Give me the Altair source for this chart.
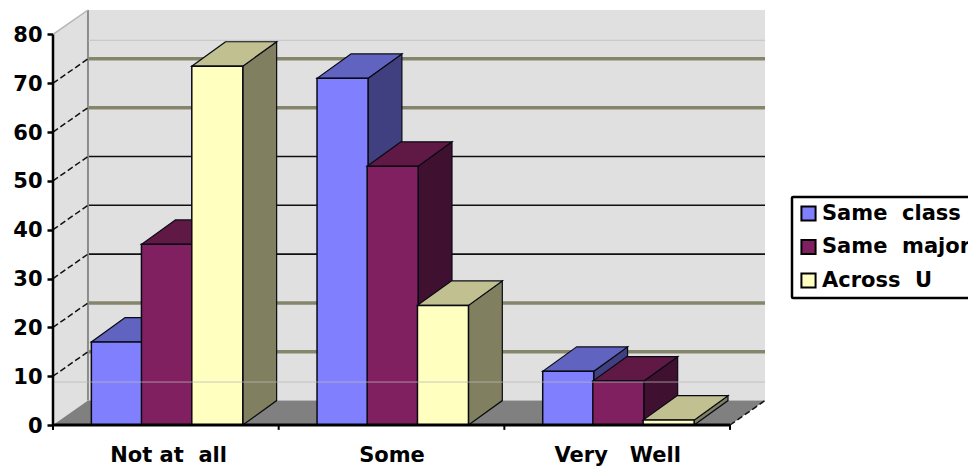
import altair as alt
import pandas as pd

# Survey responses, one value per answer group
categories = ["Not at\u00a0\u00a0all", "Some", "Very\u00a0\u00a0\u00a0Well"]
series = ["Same\u00a0\u00a0class", "Same\u00a0\u00a0major", "Across\u00a0\u00a0U"]
same_class = [17, 71, 11]
same_major = [37, 53, 9]
across_u = [73.5, 24.5, 1]
y_ticks = [0, 10, 20, 30, 40, 50, 60, 70, 80]

front_colors = ["#8080FF", "#802060", "#FFFFC0"]
top_colors = ["#6064C0", "#601845", "#C0C090"]
side_colors = ["#404080", "#401030", "#808060"]

# Pseudo-3D box geometry, in axis units
DEPTH_X = 0.155
DEPTH_Y = 5
BAR_DEPTH_X = 0.15
BAR_OFFSETS = [0.17, 0.392, 0.615]
BAR_WIDTH = 0.226
X_MAX = 3 + DEPTH_X
Y_MAX = 85
FONT = "DejaVu Sans"
INK = "#0a0a14"

x_scale = alt.Scale(domain=[0, X_MAX], nice=False, zero=False)
y_scale = alt.Scale(domain=[0, Y_MAX], nice=False, zero=False)

# Both axes are shared by every layer, so each layer carries the same definition
x_axis = alt.Axis(
    values=[0.51, 1.5, 2.5],
    labelExpr="datum.value < 1 ? '%s' : datum.value < 2 ? '%s' : '%s'" % tuple(categories),
    tickSize=0, domain=False, grid=False, labelFont=FONT, labelFontSize=21, labelFontWeight="bold",
    labelColor="black", labelPadding=19, labelAngle=0, title=None,
)
y_axis = alt.Axis(
    values=y_ticks, domain=False, grid=False, tickSize=6, tickWidth=2.5, tickColor="black",
    labelFont=FONT, labelFontSize=21, labelFontWeight="bold", labelColor="black", labelPadding=5,
    labelOffset=1, title=None,
)


def X(field, **kw):
    return alt.X(field, type="quantitative", scale=x_scale, axis=x_axis, **kw)


def Y(field, **kw):
    return alt.Y(field, type="quantitative", scale=y_scale, axis=y_axis, **kw)


# Walls and floor
back_wall = alt.Chart(pd.DataFrame([{"a": DEPTH_X, "b": X_MAX, "c": DEPTH_Y, "d": Y_MAX}])).mark_rect(
    color="#E0E0E0"
).encode(x=X("a"), x2="b:Q", y=Y("c"), y2="d:Q")

left_wall = alt.Chart(pd.DataFrame({
    "x": [0, DEPTH_X], "lo": [0, DEPTH_Y], "hi": [80, 80 + DEPTH_Y],
})).mark_area(color="#E0E0E0").encode(x=X("x"), y=Y("lo", stack=None), y2="hi:Q")

floor = alt.Chart(pd.DataFrame({
    "y": [0, DEPTH_Y], "l": [0, DEPTH_X], "r": [3, X_MAX],
})).mark_area(color="#808080", orient="horizontal").encode(y=Y("y"), x=X("l", stack=None), x2="r:Q")

# Back-wall gridlines: some levels print as heavy olive bands, others as thin black lines
heavy_levels = [10, 20, 60, 70]
thin_levels = [30, 40, 50]
heavy = alt.Chart(pd.DataFrame({"k": [k + DEPTH_Y for k in heavy_levels], "l": DEPTH_X, "r": X_MAX})).mark_rule(
    color="#85856C", strokeWidth=3.5
).encode(y=Y("k"), x=X("l"), x2="r:Q")
thin = alt.Chart(pd.DataFrame({"k": [k + DEPTH_Y for k in thin_levels], "l": DEPTH_X, "r": X_MAX})).mark_rule(
    color="#101010", strokeWidth=1.6
).encode(y=Y("k"), x=X("l"), x2="r:Q")
wall_edge = alt.Chart(pd.DataFrame({"x": [DEPTH_X], "lo": [DEPTH_Y], "hi": [Y_MAX]})).mark_rule(
    color="#8C8C8C", strokeWidth=2
).encode(x=X("x"), y=Y("lo"), y2="hi:Q")

# Dashed diagonals on the side wall, plus the floor's far right edge
diag_rows = []
for k in y_ticks[1:-1]:
    diag_rows += [{"k": k, "x": 0, "y": k}, {"k": k, "x": DEPTH_X, "y": k + DEPTH_Y}]
diag_rows += [{"k": -1, "x": 3, "y": 0}, {"k": -1, "x": X_MAX, "y": DEPTH_Y}]
diagonals = alt.Chart(pd.DataFrame(diag_rows)).mark_line(
    color="#101010", strokeWidth=1.5, strokeDash=[6, 3]
).encode(x=X("x"), y=Y("y"), detail="k:N")
top_diag = alt.Chart(pd.DataFrame({"x": [0, DEPTH_X], "y": [80, 80 + DEPTH_Y]})).mark_line(
    color="#B4B4B4", strokeWidth=1.5
).encode(x=X("x"), y=Y("y"))

# One set of side, top and front faces per series, painted left to right
bars = []
color_scale = alt.Scale(domain=series, range=front_colors)
legend = alt.Legend(
    orient="none", legendX=739, legendY=187, title=None, strokeColor="black", fillColor="white",
    padding=6, symbolType="square", symbolSize=200, symbolStrokeColor="black", symbolStrokeWidth=2,
    labelFont=FONT, labelFontSize=21, labelFontWeight="bold", labelColor="black", labelOffset=3,
    rowPadding=10.5, labelLimit=300,
)
for s, (name, values) in enumerate(zip(series, [same_class, same_major, across_u])):
    side_rows, top_rows, front_rows = [], [], []
    for c, v in enumerate(values):
        x0 = c + BAR_OFFSETS[s]
        x1 = x0 + BAR_WIDTH
        side_rows += [{"c": c, "x": x1, "lo": 0, "hi": v},
                      {"c": c, "x": x1 + BAR_DEPTH_X, "lo": DEPTH_Y, "hi": v + DEPTH_Y}]
        top_rows += [{"c": c, "y": v, "l": x0, "r": x1},
                     {"c": c, "y": v + DEPTH_Y, "l": x0 + BAR_DEPTH_X, "r": x1 + BAR_DEPTH_X}]
        front_rows.append({"series": name, "x0": x0, "x1": x1, "base": 0, "v": v})
    bars.append(alt.Chart(pd.DataFrame(side_rows)).mark_area(
        color=side_colors[s], stroke=INK, strokeWidth=1.2
    ).encode(x=X("x"), y=Y("lo", stack=None), y2="hi:Q", detail="c:N"))
    bars.append(alt.Chart(pd.DataFrame(top_rows)).mark_area(
        color=top_colors[s], stroke=INK, strokeWidth=1.2, orient="horizontal"
    ).encode(y=Y("y"), x=X("l", stack=None), x2="r:Q", detail="c:N"))
    bars.append(alt.Chart(pd.DataFrame(front_rows)).mark_rect(stroke=INK, strokeWidth=1.5).encode(
        x=X("x0"), x2="x1:Q", y=Y("base"), y2="v:Q",
        color=alt.Color("series:N", scale=color_scale, legend=legend),
    ))

# Faint horizontal scan lines that run across the whole plot
faint = alt.Chart(pd.DataFrame({"k": [8.8, 78.8], "l": [0, DEPTH_X], "r": [X_MAX, X_MAX]})).mark_rule(
    color="#B8B8B8", strokeWidth=1, opacity=0.75
).encode(y=Y("k"), x=X("l"), x2="r:Q")

# Front axes and category ticks
baseline = alt.Chart(pd.DataFrame({"l": [0], "r": [3], "y": [0]})).mark_rule(color="black", strokeWidth=3).encode(
    x=X("l"), x2="r:Q", y=Y("y"))
y_line = alt.Chart(pd.DataFrame({"x": [0], "lo": [0], "hi": [80]})).mark_rule(color="black", strokeWidth=2.5).encode(
    x=X("x"), y=Y("lo"), y2="hi:Q")
x_ticks = alt.Chart(pd.DataFrame({"x": [0, 1, 2, 3], "lo": -1, "hi": 0})).mark_rule(color="black", strokeWidth=2).encode(
    x=X("x"), y=Y("lo"), y2="hi:Q")

chart = alt.layer(
    back_wall, left_wall, floor, heavy, thin, wall_edge, diagonals, top_diag,
    *bars, faint, baseline, y_line, x_ticks,
).properties(
    width=712, height=415,
    padding={"left": 53, "top": 10, "right": 203, "bottom": 44},
    autosize=alt.AutoSizeParams(type="none"),
    background="white",
).configure_view(stroke=None).configure_legend(strokeWidth=2.5, cornerRadius=1)

chart.save("out.html", embed_options={"renderer": "svg", "actions": False})
